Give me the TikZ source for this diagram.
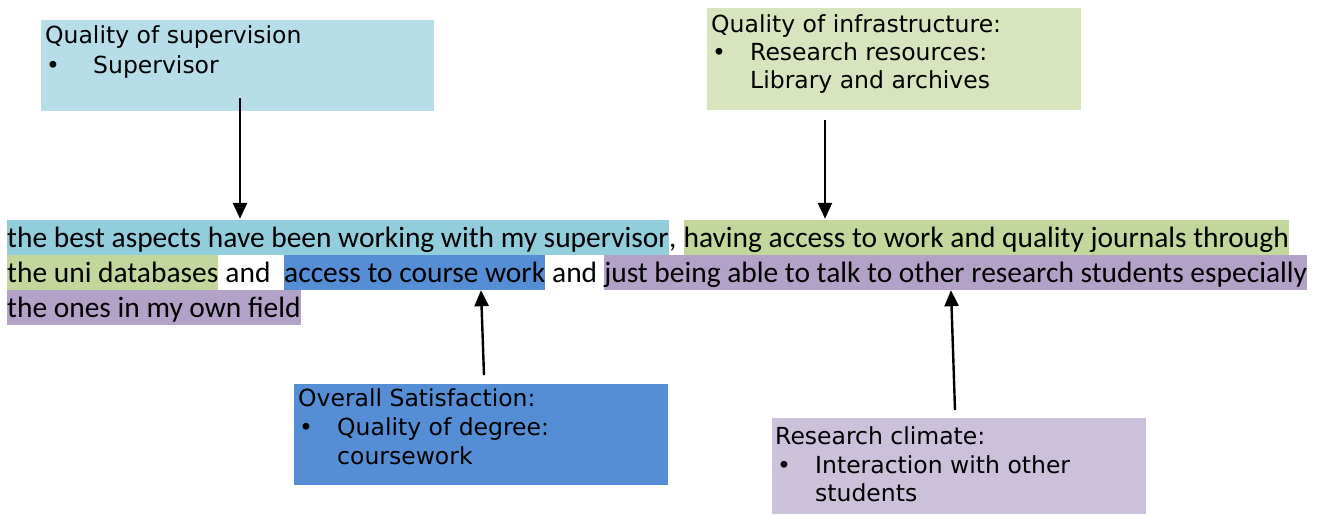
\documentclass[tikz,border=0pt]{standalone}
\usepackage{fontspec}
\setmainfont{Carlito}
\newfontfamily\boxfont{DejaVu Sans}
\usetikzlibrary{arrows.meta}
\definecolor{boxsup}{HTML}{B7DEE8}
\definecolor{boxinfra}{HTML}{D7E4BD}
\definecolor{boxsat}{HTML}{558ED5}
\definecolor{boxclim}{HTML}{CCC1DA}
\definecolor{hlsup}{HTML}{92CDDC}
\definecolor{hlinfra}{HTML}{C3D69B}
\definecolor{hlsat}{HTML}{558ED5}
\definecolor{hlclim}{HTML}{B3A2C7}
\begin{document}
\begin{tikzpicture}[x=1pt,y=-1pt,
  hl/.style={anchor=base west, inner xsep=0pt, inner ysep=0pt,
    text height=27.5pt, text depth=7.5pt, font=\fontsize{29.45pt}{35pt}\selectfont},
  boxtxt/.style={anchor=base west, inner sep=0pt,
    font=\boxfont\fontsize{23.5pt}{28pt}\selectfont},
  arr/.style={line width=2.4pt, -{Triangle[length=16pt,width=14pt]}}]
\useasboundingbox (0,0) rectangle (1317,514);

% category boxes
\fill[boxsup]   (41,20)   rectangle (434,111);
\fill[boxinfra] (707,8)   rectangle (1081,110);
\fill[boxsat]   (294,384) rectangle (668,485);
\fill[boxclim]  (772,418) rectangle (1146,514);

\node[boxtxt] (supT) at (45,43) {Quality of supervision};
\node[boxtxt] (supB) at (46,73) {\textbullet};
\node[boxtxt] (supL) at (93,73) {Supervisor};

\node[boxtxt] (infT) at (711,32) {Quality of infrastructure:};
\node[boxtxt] (infB) at (712,60) {\textbullet};
\node[boxtxt] (infL1) at (750,60) {Research resources:};
\node[boxtxt] (infL2) at (750,88) {Library and archives};

\node[boxtxt] (satT) at (298,406) {Overall Satisfaction:};
\node[boxtxt] (satB) at (299,435) {\textbullet};
\node[boxtxt] (satL1) at (337,435) {Quality of degree:};
\node[boxtxt] (satL2) at (337,464) {coursework};

\node[boxtxt] (climT) at (775,444) {Research climate:};
\node[boxtxt] (climB) at (777,473) {\textbullet};
\node[boxtxt] (climL1) at (815,473) {Interaction with other};
\node[boxtxt] (climL2) at (815,501) {students};

% highlighted comment text
\node[hl, fill=hlsup] (s1) at (7,247.5) {the best aspects have been working with my supervisor};
\node[hl] (c1) at (s1.base east) {,\ \null};
\node[hl, fill=hlinfra] (s2) at (c1.base east) {having access to work and quality journals through};

\node[hl, fill=hlinfra] (s3) at (7,282.5) {the uni databases};
\node[hl] (a1) at (s3.base east) {\ and\ \ \null};
\node[hl, fill=hlsat] (s4) at (a1.base east) {access to course work};
\node[hl] (a2) at (s4.base east) {\ and\ \null};
\node[hl, fill=hlclim] (s5) at (a2.base east) {just being able to talk to other research students especially};

\node[hl, fill=hlclim] (s6) at (7,317.5) {the ones in my own field};

% connectors
\coordinate (supA) at (240,98);
\coordinate (infA) at (825,120);
\coordinate (satA) at (484,375);
\coordinate (climA) at (955,410);
\coordinate (satE) at (481,0);
\coordinate (climE) at (951,0);

\draw[arr, shorten >=1pt] (supA) -- (supA |- s1.north);
\draw[arr, shorten >=1pt] (infA) -- (infA |- s2.north);
\draw[arr] (satA) -- (satE |- s4.south);
\draw[arr] (climA) -- (climE |- s5.south);
\end{tikzpicture}
\end{document}
